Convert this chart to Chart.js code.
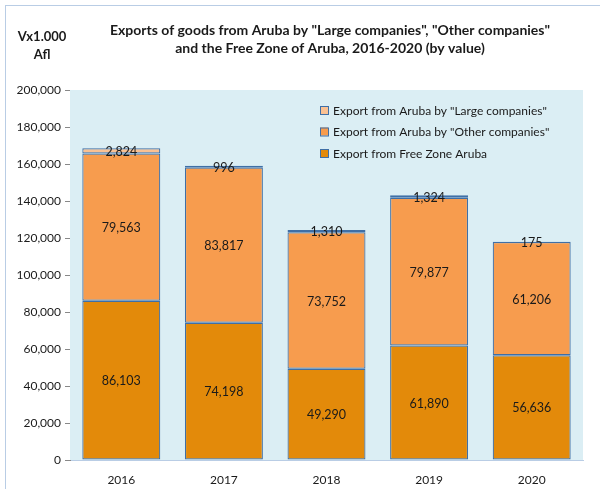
<!DOCTYPE html>
<html>
<head>
<meta charset="utf-8">
<script src="https://cdn.jsdelivr.net/npm/chart.js@4.4.1/dist/chart.umd.min.js"></script>
<style>
  html, body { margin: 0; padding: 0; background: #fff; }
  #wrap { position: relative; width: 600px; height: 489px; }
  #frame { position: absolute; left: 5px; top: 5px; width: 600px; height: 500px; border: 1px solid #B9CDE5; box-sizing: border-box; }
  canvas { position: absolute; left: 0; top: 0; }
</style>
</head>
<body>
<div id="wrap">
  <div id="frame"></div>
  <canvas id="chart" width="600" height="489"></canvas>
</div>
<script>
const years = ["2016", "2017", "2018", "2019", "2020"];
const freeZone = [86103, 74198, 49290, 61890, 56636];
const otherCompanies = [79563, 83817, 73752, 79877, 61206];
const largeCompanies = [2824, 996, 1310, 1324, 175];

const titleLines = ['Exports of goods from Aruba by "Large companies", "Other companies"',
                    'and the Free Zone of Aruba, 2016-2020 (by value)'];
const unitLines = ["Vx1.000", "Afl"];

const FONT = "Lato, 'Open Sans', sans-serif";
const BORDER = "#3F6FA6";

// fondo del area de trazado, etiquetas, leyenda y titulos
const decor = {
    id: "decor",
    beforeDatasetsDraw(chart) {
        const { ctx, chartArea: a } = chart;
        ctx.save();
        ctx.fillStyle = "#DBEEF4";
        ctx.fillRect(a.left, a.top, a.right - a.left, a.bottom - a.top);
        ctx.restore();
    },
    afterDatasetsDraw(chart) {
        const { ctx } = chart;
        ctx.save();
        ctx.fillStyle = "#1a1a1a";
        ctx.font = "12.5px " + FONT;
        ctx.textAlign = "center";
        ctx.textBaseline = "middle";
        chart.data.datasets.forEach((ds, i) => {
            chart.getDatasetMeta(i).data.forEach((bar, j) => {
                const mid = (bar.y + bar.base) / 2;
                ctx.fillText(ds.data[j].toLocaleString("en-US"), bar.x, mid + 1);
            });
        });

        // leyenda dentro del grafico, orden inverso
        const items = chart.data.datasets.slice().reverse();
        ctx.font = "12px " + FONT;
        ctx.textAlign = "left";
        items.forEach((ds, k) => {
            const y = 110 + k * 21.5;
            ctx.fillStyle = ds.backgroundColor;
            ctx.fillRect(320, y - 4, 8, 8);
            ctx.strokeStyle = BORDER;
            ctx.lineWidth = 1;
            ctx.strokeRect(320.5, y - 3.5, 8, 8);
            ctx.fillStyle = "#1a1a1a";
            ctx.fillText(ds.label, 333, y + 1);
        });

        // titulos
        ctx.font = "bold 14px " + FONT;
        ctx.textAlign = "center";
        ctx.fillText(titleLines[0], 330, 30);
        ctx.fillText(titleLines[1], 330, 48);
        ctx.font = "bold 13px " + FONT;
        ctx.fillText(unitLines[0], 42, 37);
        ctx.fillText(unitLines[1], 42, 55);
        ctx.restore();
    }
};

const mk = (label, data, color) => ({
    label, data, backgroundColor: color, borderColor: BORDER, borderWidth: 1.2,
    borderSkipped: false, categoryPercentage: 1, barPercentage: 0.76
});

new Chart(document.getElementById("chart"), {
    type: "bar",
    data: {
        labels: years,
        datasets: [
            mk("Export from Free Zone Aruba", freeZone, "#E38A0A"),
            mk('Export from Aruba by "Other companies"', otherCompanies, "#F79C4E"),
            mk('Export from Aruba by "Large companies"', largeCompanies, "#FAC193"),
        ],
    },
    options: {
        responsive: false,
        animation: false,
        layout: { padding: { top: 90, right: 17, left: 0, bottom: 0 } },
        plugins: { legend: { display: false }, tooltip: { enabled: false } },
        scales: {
            x: {
                stacked: true,
                grid: { display: false },
                border: { color: "#B9CDE5", width: 1 },
                ticks: { color: "#1a1a1a", font: { family: FONT, size: 12 }, padding: 5 },
                afterFit: s => { s.height = 29; },
            },
            y: {
                stacked: true,
                min: 0, max: 200000,
                ticks: {
                    stepSize: 20000, color: "#1a1a1a", padding: 4,
                    font: { family: FONT, size: 12 },
                    callback: v => v.toLocaleString("en-US"),
                },
                grid: { drawOnChartArea: false, tickLength: 5, color: "#888" },
                border: { color: "#888", width: 1 },
                afterFit: s => { s.width = 70; },
            },
        },
    },
    plugins: [decor],
});
</script>
</body>
</html>
